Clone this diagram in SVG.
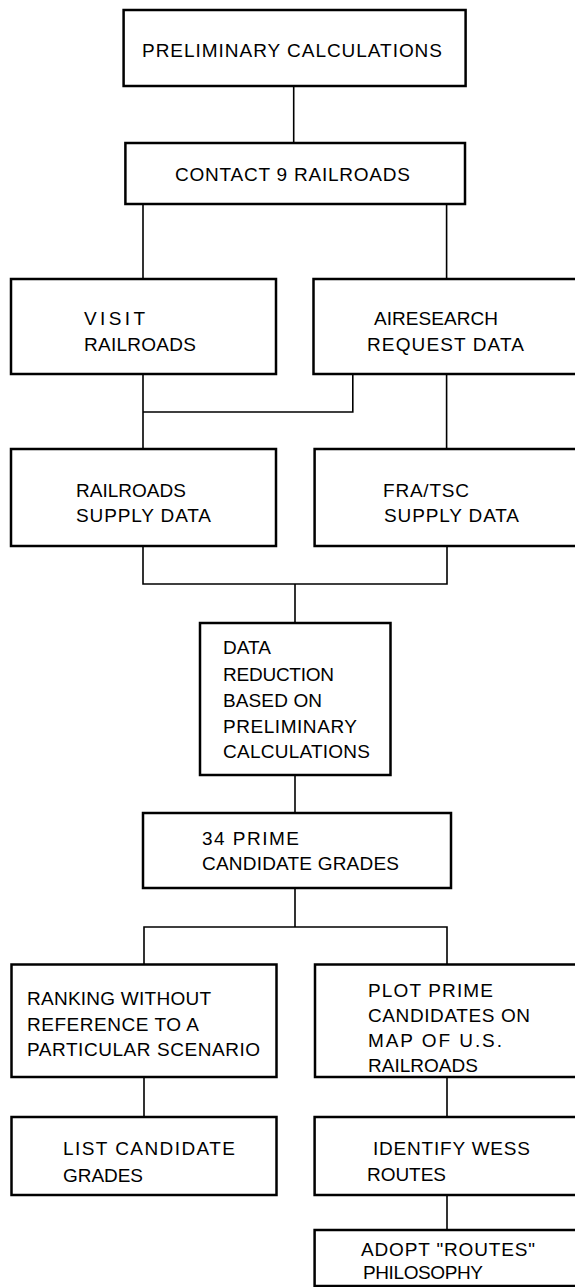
<svg xmlns="http://www.w3.org/2000/svg" width="575" height="1287" viewBox="0 0 575 1287">
<style>
.box{fill:#fff;stroke:#000;stroke-width:2.5}
.conn{fill:none;stroke:#000;stroke-width:1.6}
.t{font-family:"Liberation Sans",Arial,sans-serif;font-size:19px;fill:#000}
</style>
<rect width="575" height="1287" fill="#fff"/>
<g id="connectors">
<path class="conn" d="M293.7 86V143"/>
<path class="conn" d="M143 204V279M446.6 204V279"/>
<path class="conn" d="M143 374V449M352.8 374V412H143M446.6 374V449"/>
<path class="conn" d="M143 546V584H447V546M295 584V623"/>
<path class="conn" d="M295 775V813"/>
<path class="conn" d="M295 888V927M144 965V927H447V965"/>
<path class="conn" d="M144 1077V1117M447 1077V1117"/>
<path class="conn" d="M447 1195V1230"/>
</g>
<g id="n1"><rect class="box" x="123.6" y="10" width="342" height="76"/>
<text class="t" x="142" y="57" textLength="300" lengthAdjust="spacing">PRELIMINARY CALCULATIONS</text></g>
<g id="n2"><rect class="box" x="125.4" y="143" width="339.6" height="61"/>
<text class="t" x="175" y="181" textLength="235" lengthAdjust="spacing">CONTACT 9 RAILROADS</text></g>
<g id="n3"><rect class="box" x="11" y="279" width="265" height="95"/>
<text class="t" x="84" y="325" textLength="61" lengthAdjust="spacing">VISIT</text>
<text class="t" x="84" y="351" textLength="112" lengthAdjust="spacing">RAILROADS</text></g>
<g id="n4"><rect class="box" x="313.5" y="279" width="270" height="95"/>
<text class="t" x="374" y="325" textLength="124" lengthAdjust="spacing">AIRESEARCH</text>
<text class="t" x="367" y="351" textLength="157" lengthAdjust="spacing">REQUEST DATA</text></g>
<g id="n5"><rect class="box" x="11" y="449" width="265" height="97"/>
<text class="t" x="76" y="497" textLength="110" lengthAdjust="spacing">RAILROADS</text>
<text class="t" x="76" y="522" textLength="135" lengthAdjust="spacing">SUPPLY DATA</text></g>
<g id="n6"><rect class="box" x="314.6" y="449" width="270" height="97"/>
<text class="t" x="383" y="497" textLength="86" lengthAdjust="spacing">FRA/TSC</text>
<text class="t" x="384" y="522" textLength="135" lengthAdjust="spacing">SUPPLY DATA</text></g>
<g id="n7"><rect class="box" x="200" y="623" width="190.5" height="152"/>
<text class="t" x="223" y="654" textLength="48" lengthAdjust="spacing">DATA</text>
<text class="t" x="223" y="681" textLength="111" lengthAdjust="spacing">REDUCTION</text>
<text class="t" x="223" y="707" textLength="99" lengthAdjust="spacing">BASED ON</text>
<text class="t" x="223" y="733" textLength="134" lengthAdjust="spacing">PRELIMINARY</text>
<text class="t" x="223" y="758" textLength="147" lengthAdjust="spacing">CALCULATIONS</text></g>
<g id="n8"><rect class="box" x="143" y="813" width="308" height="75"/>
<text class="t" x="202" y="845" textLength="97" lengthAdjust="spacing">34 PRIME</text>
<text class="t" x="202" y="870" textLength="197" lengthAdjust="spacing">CANDIDATE GRADES</text></g>
<g id="n9"><rect class="box" x="11.5" y="964.5" width="265" height="112.5"/>
<text class="t" x="27" y="1005" textLength="184" lengthAdjust="spacing">RANKING WITHOUT</text>
<text class="t" x="27" y="1031" textLength="172" lengthAdjust="spacing">REFERENCE TO A</text>
<text class="t" x="27" y="1056" textLength="233" lengthAdjust="spacing">PARTICULAR SCENARIO</text></g>
<g id="n10"><rect class="box" x="315" y="964.5" width="270" height="112.5"/>
<text class="t" x="368" y="997" textLength="125" lengthAdjust="spacing">PLOT PRIME</text>
<text class="t" x="368" y="1022" textLength="162" lengthAdjust="spacing">CANDIDATES ON</text>
<text class="t" x="368" y="1047" textLength="134" lengthAdjust="spacing">MAP OF U.S.</text>
<text class="t" x="368" y="1072" textLength="110" lengthAdjust="spacing">RAILROADS</text></g>
<g id="n11"><rect class="box" x="11.5" y="1117" width="265" height="78"/>
<text class="t" x="63" y="1155" textLength="172" lengthAdjust="spacing">LIST CANDIDATE</text>
<text class="t" x="63" y="1182" textLength="80" lengthAdjust="spacing">GRADES</text></g>
<g id="n12"><rect class="box" x="314.6" y="1117" width="270" height="78"/>
<text class="t" x="373" y="1155" textLength="157" lengthAdjust="spacing">IDENTIFY WESS</text>
<text class="t" x="367" y="1181" textLength="79" lengthAdjust="spacing">ROUTES</text></g>
<g id="n13"><rect class="box" x="314.6" y="1230" width="270" height="56"/>
<text class="t" x="361" y="1256" textLength="174" lengthAdjust="spacing">ADOPT "ROUTES"</text>
<text class="t" x="363" y="1279" textLength="120" lengthAdjust="spacing">PHILOSOPHY</text></g>
</svg>
